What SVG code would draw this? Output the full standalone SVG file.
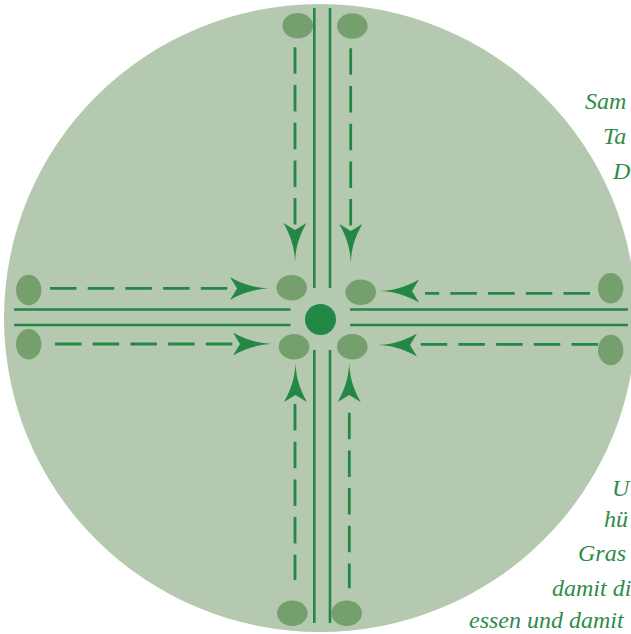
<svg xmlns="http://www.w3.org/2000/svg" xmlns:xlink="http://www.w3.org/1999/xlink" width="631" height="634" viewBox="0 0 631 634">
<style>
.road{stroke:#238746;stroke-width:2.6;fill:none}
.dash{stroke:#238746;stroke-width:2.8;fill:none;stroke-dasharray:26.5 11.2}
.oval{fill:#75a06e}
.arr{fill:#238746}
.txt{font-family:"Liberation Serif","DejaVu Serif",serif;font-style:italic;font-size:24px;fill:#2e8b4a}
</style>
<defs>
<path id="ah" d="M0,0 C-12,-0.5 -24,-3 -39,-11.5 L-32,0 L-39,11.5 C-24,3 -12,0.5 0,0 Z"/>
</defs>
<rect width="631" height="634" fill="#ffffff"/>
<ellipse id="field" cx="320" cy="318" rx="316" ry="314" fill="#b5c8b0"/>
<g id="connectors">
<line class="road" x1="314.3" y1="8" x2="314.3" y2="288"/>
<line class="road" x1="330" y1="8" x2="330" y2="288"/>
<line class="road" x1="314.3" y1="350" x2="314.3" y2="623"/>
<line class="road" x1="330" y1="350" x2="330" y2="623"/>
<line class="road" x1="14" y1="309.5" x2="290.5" y2="309.5"/>
<line class="road" x1="14" y1="325" x2="290.5" y2="325"/>
<line class="road" x1="350" y1="309.5" x2="628" y2="309.5"/>
<line class="road" x1="350" y1="325" x2="628" y2="325"/>
<line class="dash" x1="295" y1="47.3" x2="295" y2="228"/>
<line class="dash" x1="350.7" y1="48.3" x2="350.7" y2="229"/>
<line class="dash" x1="295" y1="404" x2="295" y2="580"/>
<line class="dash" x1="349.3" y1="412.7" x2="349.3" y2="588.3"/>
<line class="dash" x1="50" y1="288.3" x2="232" y2="288.3"/>
<line class="dash" x1="55" y1="344" x2="235" y2="344"/>
<line class="dash" x1="590" y1="293.3" x2="425" y2="293.3"/>
<line class="dash" x1="598" y1="344.3" x2="420" y2="344.3"/>
<use xlink:href="#ah" class="arr" transform="translate(295,262) rotate(90)"/>
<use xlink:href="#ah" class="arr" transform="translate(350.8,263) rotate(90)"/>
<use xlink:href="#ah" class="arr" transform="translate(295.5,363) rotate(-90)"/>
<use xlink:href="#ah" class="arr" transform="translate(349.2,363) rotate(-90)"/>
<use xlink:href="#ah" class="arr" transform="translate(269,288.5)"/>
<use xlink:href="#ah" class="arr" transform="translate(272,344)"/>
<use xlink:href="#ah" class="arr" transform="translate(380,291) rotate(180)"/>
<use xlink:href="#ah" class="arr" transform="translate(378,345) rotate(180)"/>
</g>
<g id="center"><circle cx="320.5" cy="319.5" r="15.5" fill="#238746"/></g>
<g id="oval-c-ul"><ellipse class="oval" cx="291.7" cy="287.7" rx="15.3" ry="12.7"/></g>
<g id="oval-c-ur"><ellipse class="oval" cx="360.7" cy="292.3" rx="15.3" ry="12.7"/></g>
<g id="oval-c-ll"><ellipse class="oval" cx="294" cy="346.7" rx="15.3" ry="12.7"/></g>
<g id="oval-c-lr"><ellipse class="oval" cx="352.3" cy="346.7" rx="15.3" ry="12.7"/></g>
<g id="oval-t-l"><ellipse class="oval" cx="297.7" cy="25.7" rx="15.3" ry="12.7"/></g>
<g id="oval-t-r"><ellipse class="oval" cx="352.3" cy="26" rx="15.3" ry="12.7"/></g>
<g id="oval-b-l"><ellipse class="oval" cx="292.3" cy="613.3" rx="15.3" ry="12.7"/></g>
<g id="oval-b-r"><ellipse class="oval" cx="346.7" cy="613.3" rx="15.3" ry="12.7"/></g>
<g id="oval-l-u"><ellipse class="oval" cx="28.7" cy="290" rx="12.7" ry="15.3"/></g>
<g id="oval-l-d"><ellipse class="oval" cx="28.7" cy="344.3" rx="12.7" ry="15.3"/></g>
<g id="oval-r-u"><ellipse class="oval" cx="610.7" cy="288.3" rx="12.7" ry="15.3"/></g>
<g id="oval-r-d"><ellipse class="oval" cx="610.7" cy="350" rx="12.7" ry="15.3"/></g>
<g id="text">
<text class="txt" x="585" y="109">Sam</text>
<text class="txt" x="603" y="144">Ta</text>
<text class="txt" x="613" y="179">D</text>
<text class="txt" x="612" y="496">U</text>
<text class="txt" x="604" y="527">hü</text>
<text class="txt" x="578" y="561">Gras</text>
<text class="txt" x="552" y="596">damit di</text>
<text class="txt" x="469" y="628">essen und damit</text>
</g>
</svg>
